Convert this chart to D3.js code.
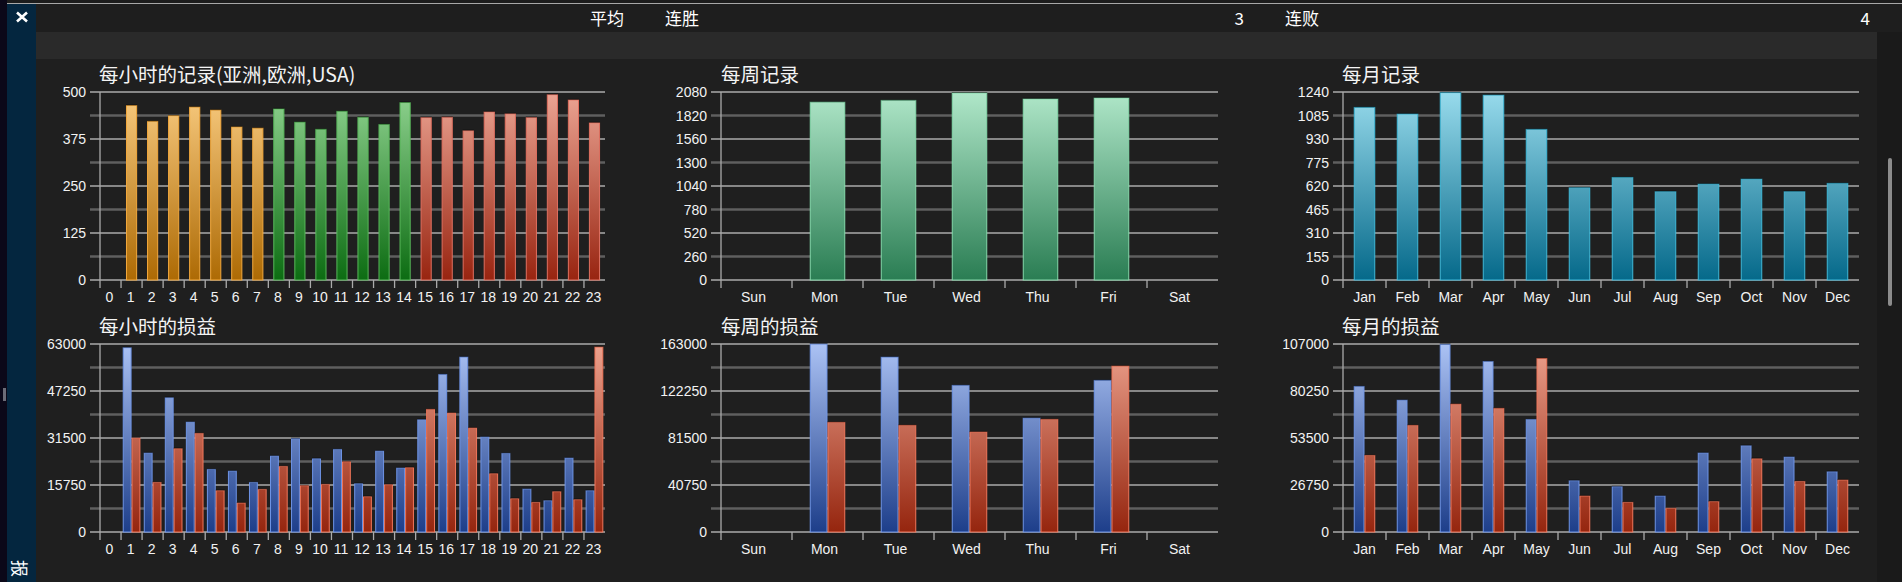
<!DOCTYPE html>
<html>
<head>
<meta charset="utf-8">
<script src="https://cdn.jsdelivr.net/npm/d3@7"></script>
<style>
  html, body { margin: 0; padding: 0; background: #1f1f1f; overflow: hidden; }
  svg { display: block; }
</style>
</head>
<body>
<svg id="chart" width="1902" height="582"></svg>
<script>
// ---------------- DATA ----------------
const hourLabels = d3.range(24).map(String);
const hourSessions = ["asia","asia","asia","asia","asia","asia","asia","asia",
  "europe","europe","europe","europe","europe","europe","europe",
  "usa","usa","usa","usa","usa","usa","usa","usa","usa"];
const hourRecords = [0,464,422,437,460,452,407,404,455,420,401,449,433,414,472,432,433,397,447,442,432,493,479,418];

const weekLabels = ["Sun","Mon","Tue","Wed","Thu","Fri","Sat"];
const weekRecords = [0,1969,1988,2069,2003,2014,0];

const monthLabels = ["Jan","Feb","Mar","Apr","May","Jun","Jul","Aug","Sep","Oct","Nov","Dec"];
const monthRecords = [1139,1095,1236,1220,994,609,677,583,633,666,583,638];

const hourProfit = [0,61770,26470,45000,36860,21000,20440,16640,25470,31280,24570,27700,16200,27140,21450,37640,52830,58640,31840,26360,14410,10500,24800,13850];
const hourLoss   = [0,31500,16640,27930,33060,13850,9720,14300,22000,15530,15970,23570,11840,15860,21560,41110,39880,34850,19550,11170,9940,13520,10840,61990];

const weekProfit = [0,163000,151700,127200,98800,131500,0];
const weekLoss   = [0,95100,92500,86700,97700,143900,0];

const monthProfit = [82900,75100,106800,97100,64100,29200,25800,20500,45000,49100,42700,34300];
const monthLoss   = [43600,60700,72800,70400,98800,20500,16900,13500,17300,41700,28800,29600];

const yMaxima = { hourRec: 500, weekRec: 2080, monthRec: 1240, hourPnl: 63000, weekPnl: 163000, monthPnl: 107000 };

const headerItems = [
  { text: "平均", anchor: "start", x: 590 },
  { text: "连胜", anchor: "start", x: 665 },
  { text: "3",   anchor: "end",   x: 1244 },
  { text: "连败", anchor: "start", x: 1285 },
  { text: "4",   anchor: "end",   x: 1870 }
];
const sideLabel = "报";

// ---------------- FRAME ----------------
const svg = d3.select("#chart");
const W = 1902, H = 582;

svg.append("rect").attr("x", 0).attr("y", 0).attr("width", W).attr("height", H).attr("fill", "#1f1f1f");
svg.append("rect").attr("x", 0).attr("y", 0).attr("width", W).attr("height", 3).attr("fill", "#1c1c1c");
svg.append("rect").attr("x", 0).attr("y", 0).attr("width", 7).attr("height", H).attr("fill", "#0b0819");
svg.append("rect").attr("x", 3).attr("y", 388).attr("width", 3).attr("height", 13).attr("fill", "#6c6c78");
svg.append("rect").attr("x", 7).attr("y", 3).attr("width", W - 7).attr("height", 1).attr("fill", "#a8a8a8");
// sidebar
svg.append("rect").attr("x", 7).attr("y", 4).attr("width", 29).attr("height", H - 4).attr("fill", "#04263f");
svg.append("path").attr("d", "M17,12.5L27,21.5M27,12.5L17,21.5")
  .attr("stroke", "#ffffff").attr("stroke-width", 2.6).attr("fill", "none");
svg.append("text").attr("transform", "translate(13,560) rotate(90)")
  .attr("font-family", "'Noto Sans CJK SC', sans-serif").attr("font-size", 17)
  .attr("fill", "#ffffff").text(sideLabel);
// header
svg.append("rect").attr("x", 36).attr("y", 4).attr("width", W - 36).attr("height", 28).attr("fill", "#1e1e1e");
svg.append("rect").attr("x", 36).attr("y", 32).attr("width", 1841).attr("height", 27).attr("fill", "#2a2a2a");
svg.append("rect").attr("x", 1877).attr("y", 32).attr("width", 25).attr("height", H - 32).attr("fill", "#1a1a1a");
svg.append("rect").attr("x", 1888).attr("y", 158).attr("width", 4).attr("height", 148).attr("rx", 2).attr("fill", "#8c8c8c");

svg.selectAll("text.hdr").data(headerItems).enter().append("text")
  .attr("class", "hdr")
  .attr("x", d => d.x).attr("y", 25)
  .attr("text-anchor", d => d.anchor)
  .attr("font-family", "'Noto Sans CJK SC', sans-serif")
  .attr("font-size", 17).attr("fill", "#ffffff")
  .text(d => d.text);

// ---------------- GRADIENTS ----------------
const defs = svg.append("defs");
function grad(id, y1, y2, c1, c2) {
  const g = defs.append("linearGradient").attr("id", id)
    .attr("gradientUnits", "userSpaceOnUse")
    .attr("x1", 0).attr("x2", 0).attr("y1", y1).attr("y2", y2);
  g.append("stop").attr("offset", 0).attr("stop-color", c1);
  g.append("stop").attr("offset", 1).attr("stop-color", c2);
}
const TOP1 = 92, BOT1 = 280, TOP2 = 344, BOT2 = 532;
const palettes = {
  asia:   ["#f9cb80", "#ad6a04", "#f3a83c"],
  europe: ["#90d390", "#0c6c12", "#58b85a"],
  usa:    ["#eca594", "#982410", "#e07060"],
  week:   ["#b0e7c9", "#2a7d53", "#84d9aa"],
  month:  ["#98dbec", "#05698a", "#3fb8d8"],
  profit: ["#abc2f4", "#1d3e8a", "#6e94e6"],
  loss:   ["#eda28e", "#95250e", "#f0765a"]
};
Object.entries(palettes).forEach(([k, p]) => {
  grad("g1_" + k, TOP1, BOT1, p[0], p[1]);
  grad("g2_" + k, TOP2, BOT2, p[0], p[1]);
});

// ---------------- CHART FUNCTION ----------------
function drawChart(cfg) {
  const g = svg.append("g");
  const x = d3.scaleBand().domain(cfg.cats).range([cfg.x0, cfg.x1]).padding(0);
  const y = d3.scaleLinear().domain([0, cfg.max]).range([cfg.bottom, cfg.top]);
  const ticks = d3.range(9).map(i => cfg.max * i / 8);

  // gridlines
  g.selectAll("line.grid").data(ticks).enter().append("line")
    .attr("x1", cfg.x0 - 10).attr("x2", cfg.x1)
    .attr("y1", d => y(d)).attr("y2", d => y(d))
    .attr("stroke", (d, i) => i % 2 === 0 ? "#ababab" : "#5f5f5f")
    .attr("stroke-width", (d, i) => i % 2 === 0 ? 1.3 : 2.6);

  // y labels
  g.selectAll("text.yl").data(ticks.filter((d, i) => cfg.allLabels || i % 2 === 0)).enter().append("text")
    .attr("x", cfg.x0 - 14).attr("y", d => y(d)).attr("dy", "0.36em")
    .attr("text-anchor", "end")
    .attr("font-family", "'Liberation Sans', Arial, sans-serif").attr("font-size", 14)
    .attr("fill", "#f2f2f2")
    .text(d => d3.format("d")(d));

  // y axis line
  g.append("line").attr("x1", cfg.x0).attr("x2", cfg.x0)
    .attr("y1", cfg.top).attr("y2", cfg.bottom + 8)
    .attr("stroke", "#ababab").attr("stroke-width", 1.3);
  // x ticks
  g.selectAll("line.xt").data(cfg.cats.slice(1)).enter().append("line")
    .attr("x1", d => x(d)).attr("x2", d => x(d))
    .attr("y1", cfg.bottom).attr("y2", cfg.bottom + 8)
    .attr("stroke", "#ababab").attr("stroke-width", 1.3);
  // x labels
  g.selectAll("text.xl").data(cfg.cats).enter().append("text")
    .attr("x", d => x(d) + x.bandwidth() / 2 + (cfg.labelShift || 0))
    .attr("y", cfg.bottom + 22)
    .attr("text-anchor", "middle")
    .attr("font-family", "'Liberation Sans', Arial, sans-serif").attr("font-size", 14)
    .attr("fill", "#f2f2f2")
    .text(d => d);

  // bars
  const groupW = x.bandwidth() * cfg.fill;
  const nS = cfg.series.length;
  const xs = d3.scaleBand().domain(d3.range(nS)).range([0, groupW]).padding(0);
  const row = cfg.top === TOP1 ? "g1_" : "g2_";
  cfg.series.forEach((s, si) => {
    const data = cfg.cats.map((c, i) => ({ c, i, v: s.values[i] })).filter(d => d.v > 0);
    const bx = d => x(d.c) + (x.bandwidth() - groupW) / 2 + xs(si);
    const pal = d => typeof s.palette === "function" ? s.palette(d.i) : s.palette;
    g.selectAll(null).data(data).enter().append("rect")
      .attr("x", d => bx(d) + 0.5)
      .attr("y", d => y(d.v))
      .attr("width", xs.bandwidth() - 1)
      .attr("height", d => cfg.bottom - y(d.v))
      .attr("fill", d => "url(#" + row + pal(d) + ")")
      .attr("stroke", d => palettes[pal(d)][2])
      .attr("stroke-width", 1);
    g.selectAll(null).data(data).enter().append("line")
      .attr("x1", d => bx(d)).attr("x2", d => bx(d) + xs.bandwidth())
      .attr("y1", d => y(d.v) - 0.5).attr("y2", d => y(d.v) - 0.5)
      .attr("stroke", "rgba(0,0,0,0.45)").attr("stroke-width", 1.2);
  });

  // title
  g.append("text").attr("x", cfg.titleX).attr("y", cfg.top - 10)
    .attr("font-family", "'Noto Sans CJK SC', sans-serif").attr("font-size", 19.5)
    .attr("fill", "#f4f4f4").text(cfg.title);
}

// ---------------- CHARTS ----------------
const C1 = [100, 605], C2 = [721, 1218], C3 = [1343, 1859];

drawChart({ title: "每小时的记录(亚洲,欧洲,USA)", titleX: 99, x0: C1[0], x1: C1[1], top: TOP1, bottom: BOT1,
  cats: hourLabels, max: yMaxima.hourRec, fill: 0.53, labelShift: -1,
  series: [{ values: hourRecords, palette: i => hourSessions[i] }] });

drawChart({ title: "每周记录", titleX: 721, x0: C2[0], x1: C2[1], top: TOP1, bottom: BOT1,
  cats: weekLabels, max: yMaxima.weekRec, fill: 0.5, labelShift: -3, allLabels: true,
  series: [{ values: weekRecords, palette: "week" }] });

drawChart({ title: "每月记录", titleX: 1342, x0: C3[0], x1: C3[1], top: TOP1, bottom: BOT1,
  cats: monthLabels, max: yMaxima.monthRec, fill: 0.5, allLabels: true,
  series: [{ values: monthRecords, palette: "month" }] });

drawChart({ title: "每小时的损益", titleX: 99, x0: C1[0], x1: C1[1], top: TOP2, bottom: BOT2,
  cats: hourLabels, max: yMaxima.hourPnl, fill: 0.84, labelShift: -1,
  series: [{ values: hourProfit, palette: "profit" }, { values: hourLoss, palette: "loss" }] });

drawChart({ title: "每周的损益", titleX: 721, x0: C2[0], x1: C2[1], top: TOP2, bottom: BOT2,
  cats: weekLabels, max: yMaxima.weekPnl, fill: 0.5, labelShift: -3,
  series: [{ values: weekProfit, palette: "profit" }, { values: weekLoss, palette: "loss" }] });

drawChart({ title: "每月的损益", titleX: 1342, x0: C3[0], x1: C3[1], top: TOP2, bottom: BOT2,
  cats: monthLabels, max: yMaxima.monthPnl, fill: 0.5,
  series: [{ values: monthProfit, palette: "profit" }, { values: monthLoss, palette: "loss" }] });
</script>
</body>
</html>
